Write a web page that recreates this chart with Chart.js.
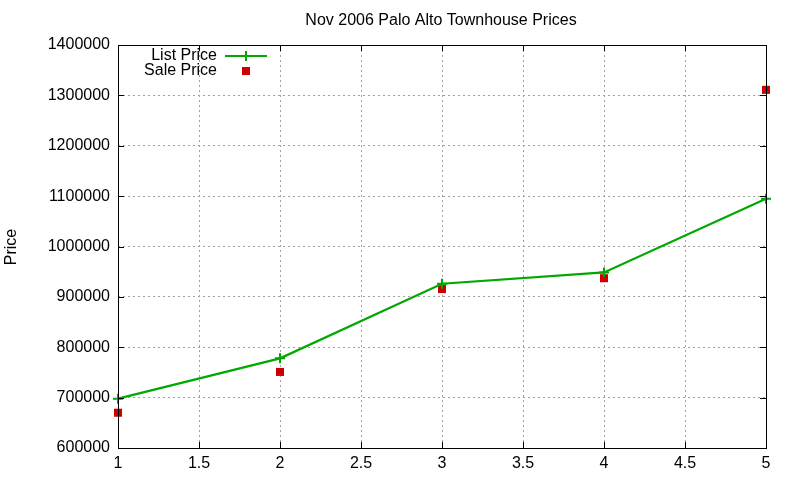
<!DOCTYPE html>
<html>
<head>
<meta charset="utf-8">
<script src="https://cdn.jsdelivr.net/npm/chart.js@4.4.0/dist/chart.umd.min.js"></script>
<style>
  body { margin: 0; background: #fff; }
  canvas { display: block; }
</style>
</head>
<body>
<canvas id="priceChart" width="800" height="480"></canvas>
<script>
const units = [1, 2, 3, 4, 5];
const listPrices = [698000, 778000, 926000, 948500, 1095000];
const salePrices = [670000, 751000, 915500, 937000, 1311000];

const FONT = '"Liberation Sans", Arial, sans-serif';

// box, inward ticks, title, y label and legend drawn gnuplot-style
const gnuplotFrame = {
  id: 'gnuplotFrame',
  afterDatasetsDraw(chart) {
    const ctx = chart.ctx;
    const a = chart.chartArea;
    const xs = chart.scales.x, ys = chart.scales.y;
    ctx.save();
    ctx.strokeStyle = '#000';
    ctx.lineWidth = 1;
    ctx.strokeRect(a.left + 0.5, a.top + 0.5, a.right - a.left, a.bottom - a.top);
    ctx.beginPath();
    xs.ticks.forEach(t => {
      const px = Math.round(xs.getPixelForValue(t.value)) + 0.5;
      ctx.moveTo(px, a.bottom); ctx.lineTo(px, a.bottom - 6);
      ctx.moveTo(px, a.top); ctx.lineTo(px, a.top + 6);
    });
    ys.ticks.forEach(t => {
      const py = Math.round(ys.getPixelForValue(t.value)) + 0.5;
      ctx.moveTo(a.left, py); ctx.lineTo(a.left + 6, py);
      ctx.moveTo(a.right, py); ctx.lineTo(a.right - 6, py);
    });
    ctx.stroke();

    ctx.fillStyle = '#000';
    ctx.font = '16px ' + FONT;
    ctx.textAlign = 'center';
    ctx.textBaseline = 'middle';
    ctx.fillText('Nov 2006 Palo Alto Townhouse Prices', 441, 21);

    ctx.save();
    ctx.translate(12, 247);
    ctx.rotate(-Math.PI / 2);
    ctx.fillText('Price', 0, 0);
    ctx.restore();

    // legend
    ctx.textAlign = 'right';
    ctx.fillText('List Price', 217, 56);
    ctx.fillText('Sale Price', 217, 71);
    ctx.strokeStyle = '#00a800';
    ctx.lineWidth = 2;
    ctx.beginPath();
    ctx.moveTo(225, 56); ctx.lineTo(267, 56);
    ctx.moveTo(246, 51); ctx.lineTo(246, 61);
    ctx.stroke();
    ctx.fillStyle = '#cc0000';
    ctx.fillRect(242, 67, 8, 8);
    ctx.restore();
  }
};

new Chart(document.getElementById('priceChart'), {
  type: 'line',
  data: {
    datasets: [
      {
        label: 'List Price',
        data: units.map((u, i) => ({ x: u, y: listPrices[i] })),
        borderColor: '#00a800',
        backgroundColor: '#00a800',
        borderWidth: 2.2,
        pointStyle: 'cross',
        pointRadius: 5,
        pointBorderWidth: 2,
        tension: 0,
        clip: false
      },
      {
        label: 'Sale Price',
        data: units.map((u, i) => ({ x: u, y: salePrices[i] })),
        showLine: false,
        borderColor: '#cc0000',
        backgroundColor: '#cc0000',
        pointStyle: 'rect',
        pointRadius: 5.7,
        pointBorderWidth: 0,
        clip: false
      }
    ]
  },
  options: {
    responsive: false,
    animation: false,
    layout: { padding: { top: 45, right: 34, left: 0, bottom: 0 } },
    plugins: {
      legend: { display: false },
      title: { display: false },
      tooltip: { enabled: false }
    },
    scales: {
      x: {
        type: 'linear',
        min: 1,
        max: 5,
        ticks: {
          stepSize: 0.5,
          padding: 6,
          color: '#000',
          font: { family: FONT, size: 16 },
          callback: v => String(v)
        },
        grid: { color: '#a0a0a0', drawTicks: false },
        border: { display: false, dash: [2, 3] },
        afterFit(scale) { scale.height = 32; }
      },
      y: {
        min: 600000,
        max: 1400000,
        ticks: {
          stepSize: 100000,
          padding: 8,
          color: '#000',
          font: { family: FONT, size: 16 },
          callback: v => String(v)
        },
        grid: { color: '#a0a0a0', drawTicks: false },
        border: { display: false, dash: [2, 3] },
        afterFit(scale) { scale.width = 118; }
      }
    }
  },
  plugins: [gnuplotFrame]
});
</script>
</body>
</html>
